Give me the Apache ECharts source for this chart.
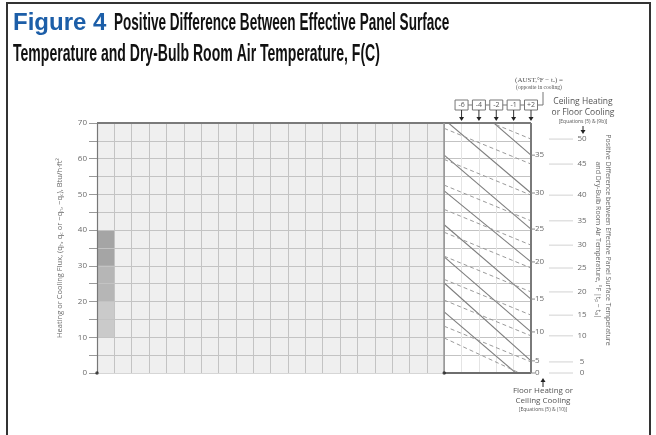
<!DOCTYPE html>
<html><head><meta charset="utf-8">
<script src="https://cdn.jsdelivr.net/npm/echarts@6/dist/echarts.min.js"></script>
<style>html,body{margin:0;padding:0;background:#fff}#c{width:656px;height:435px}</style>
</head><body><div id="c"></div>
<script>
// Flux axis (Btu/h·ft²)
const fluxMin = 0, fluxMax = 70;
// Column layout: 20 grid columns, then 5 columns of AUST correction
const gridColumns = 20, totalColumns = 25;
// Shaded first-column bands: [flux low, flux high]
const shadeBands = [[10, 20], [20, 30], [30, 40]];
const shadeColors = ['#cacaca', '#b6b6b6', '#a5a5a5'];
// AUST correction boxes along the top of the correction panel
const austLabels = ['-6', '-4', '-2', '-1', '+2'];
const austColumns = [21, 22, 23, 24, 25];
// Floor heating / ceiling cooling scale (inner, right edge): ΔT label and flux position
const floorDT = [0, 5, 10, 15, 20, 25, 30, 35];
const floorFlux = [0, 3.4, 11.5, 20.7, 31.1, 40.3, 50.4, 61.0];
// Ceiling heating / floor cooling scale (outer): ΔT label and flux position
const ceilDT = [0, 5, 10, 15, 20, 25, 30, 35, 40, 45, 50];
const ceilFlux = [0, 3.1, 10.4, 16.2, 22.7, 29.4, 35.8, 42.6, 49.8, 58.5, 65.5];
// Solid guide lines: flux at the panel's left edge and right edge
const solidLeft  = [82.0, 71.0, 61.0, 51.0, 41.5, 32.5, 25.2, 17.1];
const solidRight = [61.0, 50.4, 40.3, 31.1, 20.7, 11.5, 3.4, -3.6];
// Dashed guide lines: flux at the panel's left edge and right edge
const dashLeft  = [75.5, 68.5, 59.8, 52.6, 45.8, 39.4, 32.7, 26.2, 20.4, 13.1, 9.8];
const dashRight = [65.5, 58.5, 49.8, 42.6, 35.8, 29.4, 22.7, 16.2, 10.4, 3.1, -1.5];

const greyText = '#6a6a6a';
const sans = 'Open Sans, Noto Sans, sans-serif';
const titleFont = 'bold 24px Liberation Sans, Arial, sans-serif';

const vLineColors = [];
for (let i = 0; i <= totalColumns; i++) {
  vLineColors.push(i === 0 ? '#777' : i < gridColumns ? '#c3c3c3' : i === gridColumns ? '#9c9c9c' : i < totalColumns ? '#e4e4e4' : '#777');
}
const hLineColors = [];
for (let v = fluxMin; v <= fluxMax; v += 5) {
  hLineColors.push(v === fluxMax ? '#8a8a8a' : v === 0 ? '#d6d6d6' : '#c3c3c3');
}

const series = [];

// grey backdrop of the main grid and shaded bands in the first column
const backRects = [[0, gridColumns, fluxMin, fluxMax]].concat(shadeBands.map(b => [0, 1, b[0], b[1]]));
const backColors = ['#efefef'].concat(shadeColors);
series.push({
  type: 'custom', z: -1, silent: true,
  data: backRects,
  renderItem: (params, api) => {
    const p0 = api.coord([api.value(0), api.value(3)]);
    const p1 = api.coord([api.value(1), api.value(2)]);
    return { type: 'rect', shape: { x: p0[0], y: p0[1], width: p1[0] - p0[0], height: p1[1] - p0[1] },
      style: { fill: backColors[params.dataIndex] } };
  }
});

// solid guide lines
solidLeft.forEach((v, i) => {
  series.push({ type: 'line', silent: true, symbol: 'none', clip: true, z: 3,
    lineStyle: { color: '#7d7d7d', width: 1.1 },
    data: [[gridColumns, v], [totalColumns, solidRight[i]]] });
});
// dashed guide lines
dashLeft.forEach((v, i) => {
  series.push({ type: 'line', silent: true, symbol: 'none', clip: true, z: 3,
    lineStyle: { color: '#9a9a9a', width: 1, type: [4, 3] },
    data: [[gridColumns, v], [totalColumns, dashRight[i]]] });
});

// panel borders
series.push({
  type: 'line', data: [], silent: true, z: 4,
  markLine: { silent: true, symbol: 'none', label: { show: false },
    data: [
      [{ coord: [0, fluxMax], lineStyle: { color: '#7a7a7a', width: 2, type: 'solid' } }, { coord: [totalColumns, fluxMax] }],
      [{ coord: [gridColumns, 0], lineStyle: { color: '#6e6e6e', width: 2, type: 'solid' } }, { coord: [totalColumns, 0] }],
      [{ coord: [totalColumns, 0], lineStyle: { color: '#7a7a7a', width: 2, type: 'solid' } }, { coord: [totalColumns, fluxMax] }],
      [{ coord: [gridColumns, 0], lineStyle: { color: '#9a9a9a', width: 1.5, type: 'solid' } }, { coord: [gridColumns, fluxMax] }],
      [{ coord: [0, 0], lineStyle: { color: '#777', width: 1.2, type: 'solid' } }, { coord: [0, fluxMax] }]
    ] }
});

// origin dots
series.push({ type: 'scatter', silent: true, z: 5, symbolSize: 3.5,
  itemStyle: { color: '#222' }, data: [[0, 0], [gridColumns, 0]] });

// inner scale: floor heating / ceiling cooling
series.push({
  type: 'custom', clip: false, silent: true, z: 5,
  data: floorDT.map((t, i) => [totalColumns, floorFlux[i], t]),
  renderItem: (params, api) => {
    const p = api.coord([api.value(0), api.value(1)]);
    return { type: 'group', children: [
      { type: 'line', shape: { x1: p[0], y1: p[1], x2: p[0] + 4, y2: p[1] }, style: { stroke: '#8a8a8a', lineWidth: 1 } },
      { type: 'text', x: p[0] + 4, y: p[1], style: { text: String(api.value(2)), fill: greyText,
        font: '8px ' + sans, textAlign: 'left', textVerticalAlign: 'middle' } }
    ] };
  }
});

// outer scale: ceiling heating / floor cooling
series.push({
  type: 'custom', clip: false, silent: true, z: 5,
  data: ceilDT.map((t, i) => [totalColumns, ceilFlux[i], t]),
  renderItem: (params, api) => {
    const p = api.coord([api.value(0), api.value(1)]);
    return { type: 'group', children: [
      { type: 'line', shape: { x1: p[0] + 18, y1: p[1], x2: p[0] + 42, y2: p[1] }, style: { stroke: '#d2d2d2', lineWidth: 1 } },
      { type: 'text', x: p[0] + 51, y: p[1], style: { text: String(api.value(2)), fill: greyText,
        font: '8px ' + sans, textAlign: 'center', textVerticalAlign: 'middle' } }
    ] };
  }
});

// AUST correction boxes with arrows onto the panel top
series.push({
  type: 'custom', clip: false, silent: true, z: 6,
  data: austColumns.map(c => [c, fluxMax]),
  renderItem: (params, api) => {
    const p = api.coord([api.value(0), api.value(1)]);
    const colW = api.size([1, 0])[0];
    const boxW = 13, boxH = 10, boxBottom = p[1] - 13;
    const kids = [];
    if (params.dataIndex > 0) {
      kids.push({ type: 'line', shape: { x1: p[0] - colW + boxW / 2, y1: boxBottom - boxH / 2, x2: p[0] - boxW / 2, y2: boxBottom - boxH / 2 },
        style: { stroke: '#777', lineWidth: 1 } });
    }
    if (params.dataIndex === austColumns.length - 1) {
      kids.push({ type: 'polyline', shape: { points: [[p[0] + boxW / 2, boxBottom - boxH / 2], [p[0] + 12, boxBottom - boxH / 2], [p[0] + 12, boxBottom - 18]] },
        style: { stroke: '#777', lineWidth: 1, fill: null } });
    }
    kids.push(
      { type: 'rect', shape: { x: p[0] - boxW / 2, y: boxBottom - boxH, width: boxW, height: boxH },
        style: { fill: '#fff', stroke: '#777', lineWidth: 1 } },
      { type: 'text', x: p[0], y: boxBottom - boxH / 2, style: { text: austLabels[params.dataIndex], fill: '#555',
        font: '7px ' + sans, textAlign: 'center', textVerticalAlign: 'middle' } },
      { type: 'line', shape: { x1: p[0], y1: boxBottom, x2: p[0], y2: p[1] - 5 }, style: { stroke: '#333', lineWidth: 1 } },
      { type: 'polygon', shape: { points: [[p[0] - 2.5, p[1] - 6], [p[0] + 2.5, p[1] - 6], [p[0], p[1] - 2]] }, style: { fill: '#222' } }
    );
    return { type: 'group', children: kids };
  }
});

const option = {
  animation: false,
  backgroundColor: '#fff',
  grid: { left: 97, right: 125, top: 123, bottom: 62, containLabel: false },
  xAxis: {
    type: 'value', min: 0, max: totalColumns, interval: 1,
    axisLine: { show: false }, axisTick: { show: false }, axisLabel: { show: false },
    splitLine: { show: true, lineStyle: { color: vLineColors, width: 1 } }
  },
  yAxis: {
    type: 'value', min: fluxMin, max: fluxMax, interval: 5,
    name: 'Heating or Cooling Flux, (qₕ, q꜀ or −qₕ, −q꜀), Btu/h·ft²',
    nameLocation: 'middle', nameGap: 33,
    nameTextStyle: { color: greyText, fontSize: 7.5, fontFamily: sans },
    axisLine: { show: false },
    axisTick: { show: true, length: 8, lineStyle: { color: '#9a9a9a' } },
    axisLabel: { color: greyText, fontSize: 8, fontFamily: sans, margin: 10,
      formatter: v => (v % 10 === 0 ? String(v) : '') },
    splitLine: { show: true, lineStyle: { color: hLineColors, width: 1 } }
  },
  graphic: [
    { type: 'rect', shape: { x: 7, y: 3, width: 643, height: 445 }, style: { fill: null, stroke: '#333', lineWidth: 2 }, silent: true },
    { type: 'text', x: 13, y: 23, style: { text: 'Figure 4', font: 'bold 24px Liberation Sans, Arial, sans-serif', fill: '#1c5ea8', textVerticalAlign: 'middle' } },
    { type: 'text', x: 114, y: 23, scaleX: 0.565, style: { text: 'Positive Difference Between Effective Panel Surface', font: titleFont, fill: '#111', textVerticalAlign: 'middle' } },
    { type: 'text', x: 13, y: 54, scaleX: 0.585, style: { text: 'Temperature and Dry-Bulb Room Air Temperature, F(C)', font: titleFont, fill: '#111', textVerticalAlign: 'middle' } },
    { type: 'text', x: 539, y: 80, style: { text: '(AUST,°F − tₐ) =', font: '7px Liberation Serif, serif', fill: '#555', textAlign: 'center', textVerticalAlign: 'middle' } },
    { type: 'text', x: 539, y: 88, style: { text: '(opposite in cooling)', font: '5.5px Liberation Serif, serif', fill: '#555', textAlign: 'center', textVerticalAlign: 'middle' } },
    { type: 'text', x: 583, y: 107, style: { text: 'Ceiling Heating\nor Floor Cooling', font: '8.5px ' + sans, lineHeight: 11, fill: '#555', textAlign: 'center', textVerticalAlign: 'middle' } },
    { type: 'text', x: 583, y: 122, style: { text: '[Equations (5) & (9b)]', font: '5px ' + sans, fill: '#555', textAlign: 'center', textVerticalAlign: 'middle' } },
    { type: 'line', shape: { x1: 583, y1: 126, x2: 583, y2: 131 }, style: { stroke: '#222', lineWidth: 1 } },
    { type: 'polygon', shape: { points: [[580.5, 130], [585.5, 130], [583, 134]] }, style: { fill: '#222' } },
    { type: 'polygon', shape: { points: [[540.5, 382], [545.5, 382], [543, 378]] }, style: { fill: '#222' } },
    { type: 'line', shape: { x1: 543, y1: 382, x2: 543, y2: 387 }, style: { stroke: '#222', lineWidth: 1 } },
    { type: 'text', x: 543, y: 396, style: { text: 'Floor Heating or\nCeiling Cooling', font: '8px ' + sans, lineHeight: 10, fill: '#555', textAlign: 'center', textVerticalAlign: 'middle' } },
    { type: 'text', x: 543, y: 410, style: { text: '[Equations (5) & (10)]', font: '5px ' + sans, fill: '#555', textAlign: 'center', textVerticalAlign: 'middle' } },
    { type: 'text', x: 603, y: 240, rotation: -Math.PI / 2,
      style: { text: 'Positive Difference between Effective Panel Surface Temperature\nand Dry-Bulb Room Air Temperature, °F |tₚ − tₐ|',
        font: '7px ' + sans, lineHeight: 10, fill: greyText, textAlign: 'center', textVerticalAlign: 'middle' } }
  ],
  series: series
};

const chart = echarts.init(document.getElementById('c'));
chart.setOption(option);
</script>
</body></html>
